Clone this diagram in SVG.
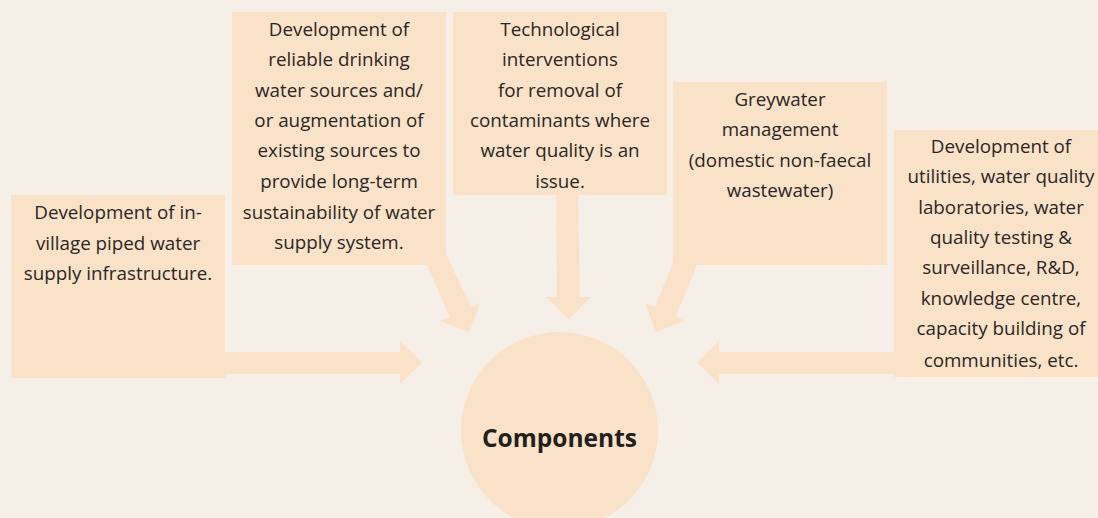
<svg xmlns="http://www.w3.org/2000/svg" width="1098" height="518" viewBox="0 0 1098 518">
<style>
.box{fill:#F9E2C8}
.arr{fill:#F9E2C8}
.t{font-family:"Open Sans",sans-serif;font-size:18.8px;fill:#2A2626;text-anchor:middle}
.h{font-family:"Open Sans",sans-serif;font-size:24.5px;font-weight:bold;fill:#231F20;text-anchor:middle}
</style>
<rect width="1098" height="518" fill="#F5EFE8"/>
<g id="connectors">
<polygon class="arr" points="220,352 400,352 400,341 422,362.5 400,384 400,374 220,374"/>
<polygon class="arr" points="900,352 719,352 719,341 697,362.5 719,384 719,374 900,374"/>
<polygon class="arr" points="556,190 578,190 580,297 591,297 569,319 546,297 557,297"/>
<polygon class="arr" points="424,258 450,317 440,321 469,332 480,303 471,307 444,250"/>
<polygon class="arr" points="700,258 676,316 685,321 656,332 645,303 655,307 675,258"/>
</g>
<g id="components">
<circle cx="559.5" cy="430.5" r="98.5" fill="#F9E2C8"/>
<text class="h" x="559.5" y="447">Components</text>
</g>
<g id="node-piped">
<rect class="box" x="11" y="195" width="214" height="183"/>
<text class="t" x="118"><tspan x="118" y="219">Development of in-</tspan><tspan x="118" y="250">village piped water</tspan><tspan x="118" y="280">supply infrastructure.</tspan></text>
</g>
<g id="node-sources">
<rect class="box" x="232" y="12" width="214" height="253"/>
<text class="t"><tspan x="339" y="36">Development of</tspan><tspan x="339" y="66">reliable drinking</tspan><tspan x="339" y="97">water sources and/</tspan><tspan x="339" y="127">or augmentation of</tspan><tspan x="339" y="157">existing sources to</tspan><tspan x="339" y="188">provide long-term</tspan><tspan x="339" y="219">sustainability of water</tspan><tspan x="339" y="249">supply system.</tspan></text>
</g>
<g id="node-tech">
<rect class="box" x="453" y="12" width="214" height="183"/>
<text class="t"><tspan x="560" y="36">Technological</tspan><tspan x="560" y="66">interventions</tspan><tspan x="560" y="97">for removal of</tspan><tspan x="560" y="127">contaminants where</tspan><tspan x="560" y="157">water quality is an</tspan><tspan x="560" y="188">issue.</tspan></text>
</g>
<g id="node-greywater">
<rect class="box" x="673" y="82" width="214" height="183"/>
<text class="t"><tspan x="780" y="106">Greywater</tspan><tspan x="780" y="136">management</tspan><tspan x="780" y="167">(domestic non-faecal</tspan><tspan x="780" y="197">wastewater)</tspan></text>
</g>
<g id="node-utilities">
<rect class="box" x="894" y="130" width="210" height="247"/>
<text class="t"><tspan x="1001" y="153">Development of</tspan><tspan x="1001" y="183">utilities, water quality</tspan><tspan x="1001" y="214">laboratories, water</tspan><tspan x="1001" y="244">quality testing &amp;</tspan><tspan x="1001" y="274">surveillance, R&amp;D,</tspan><tspan x="1001" y="305">knowledge centre,</tspan><tspan x="1001" y="335">capacity building of</tspan><tspan x="1001" y="367">communities, etc.</tspan></text>
</g>
</svg>
